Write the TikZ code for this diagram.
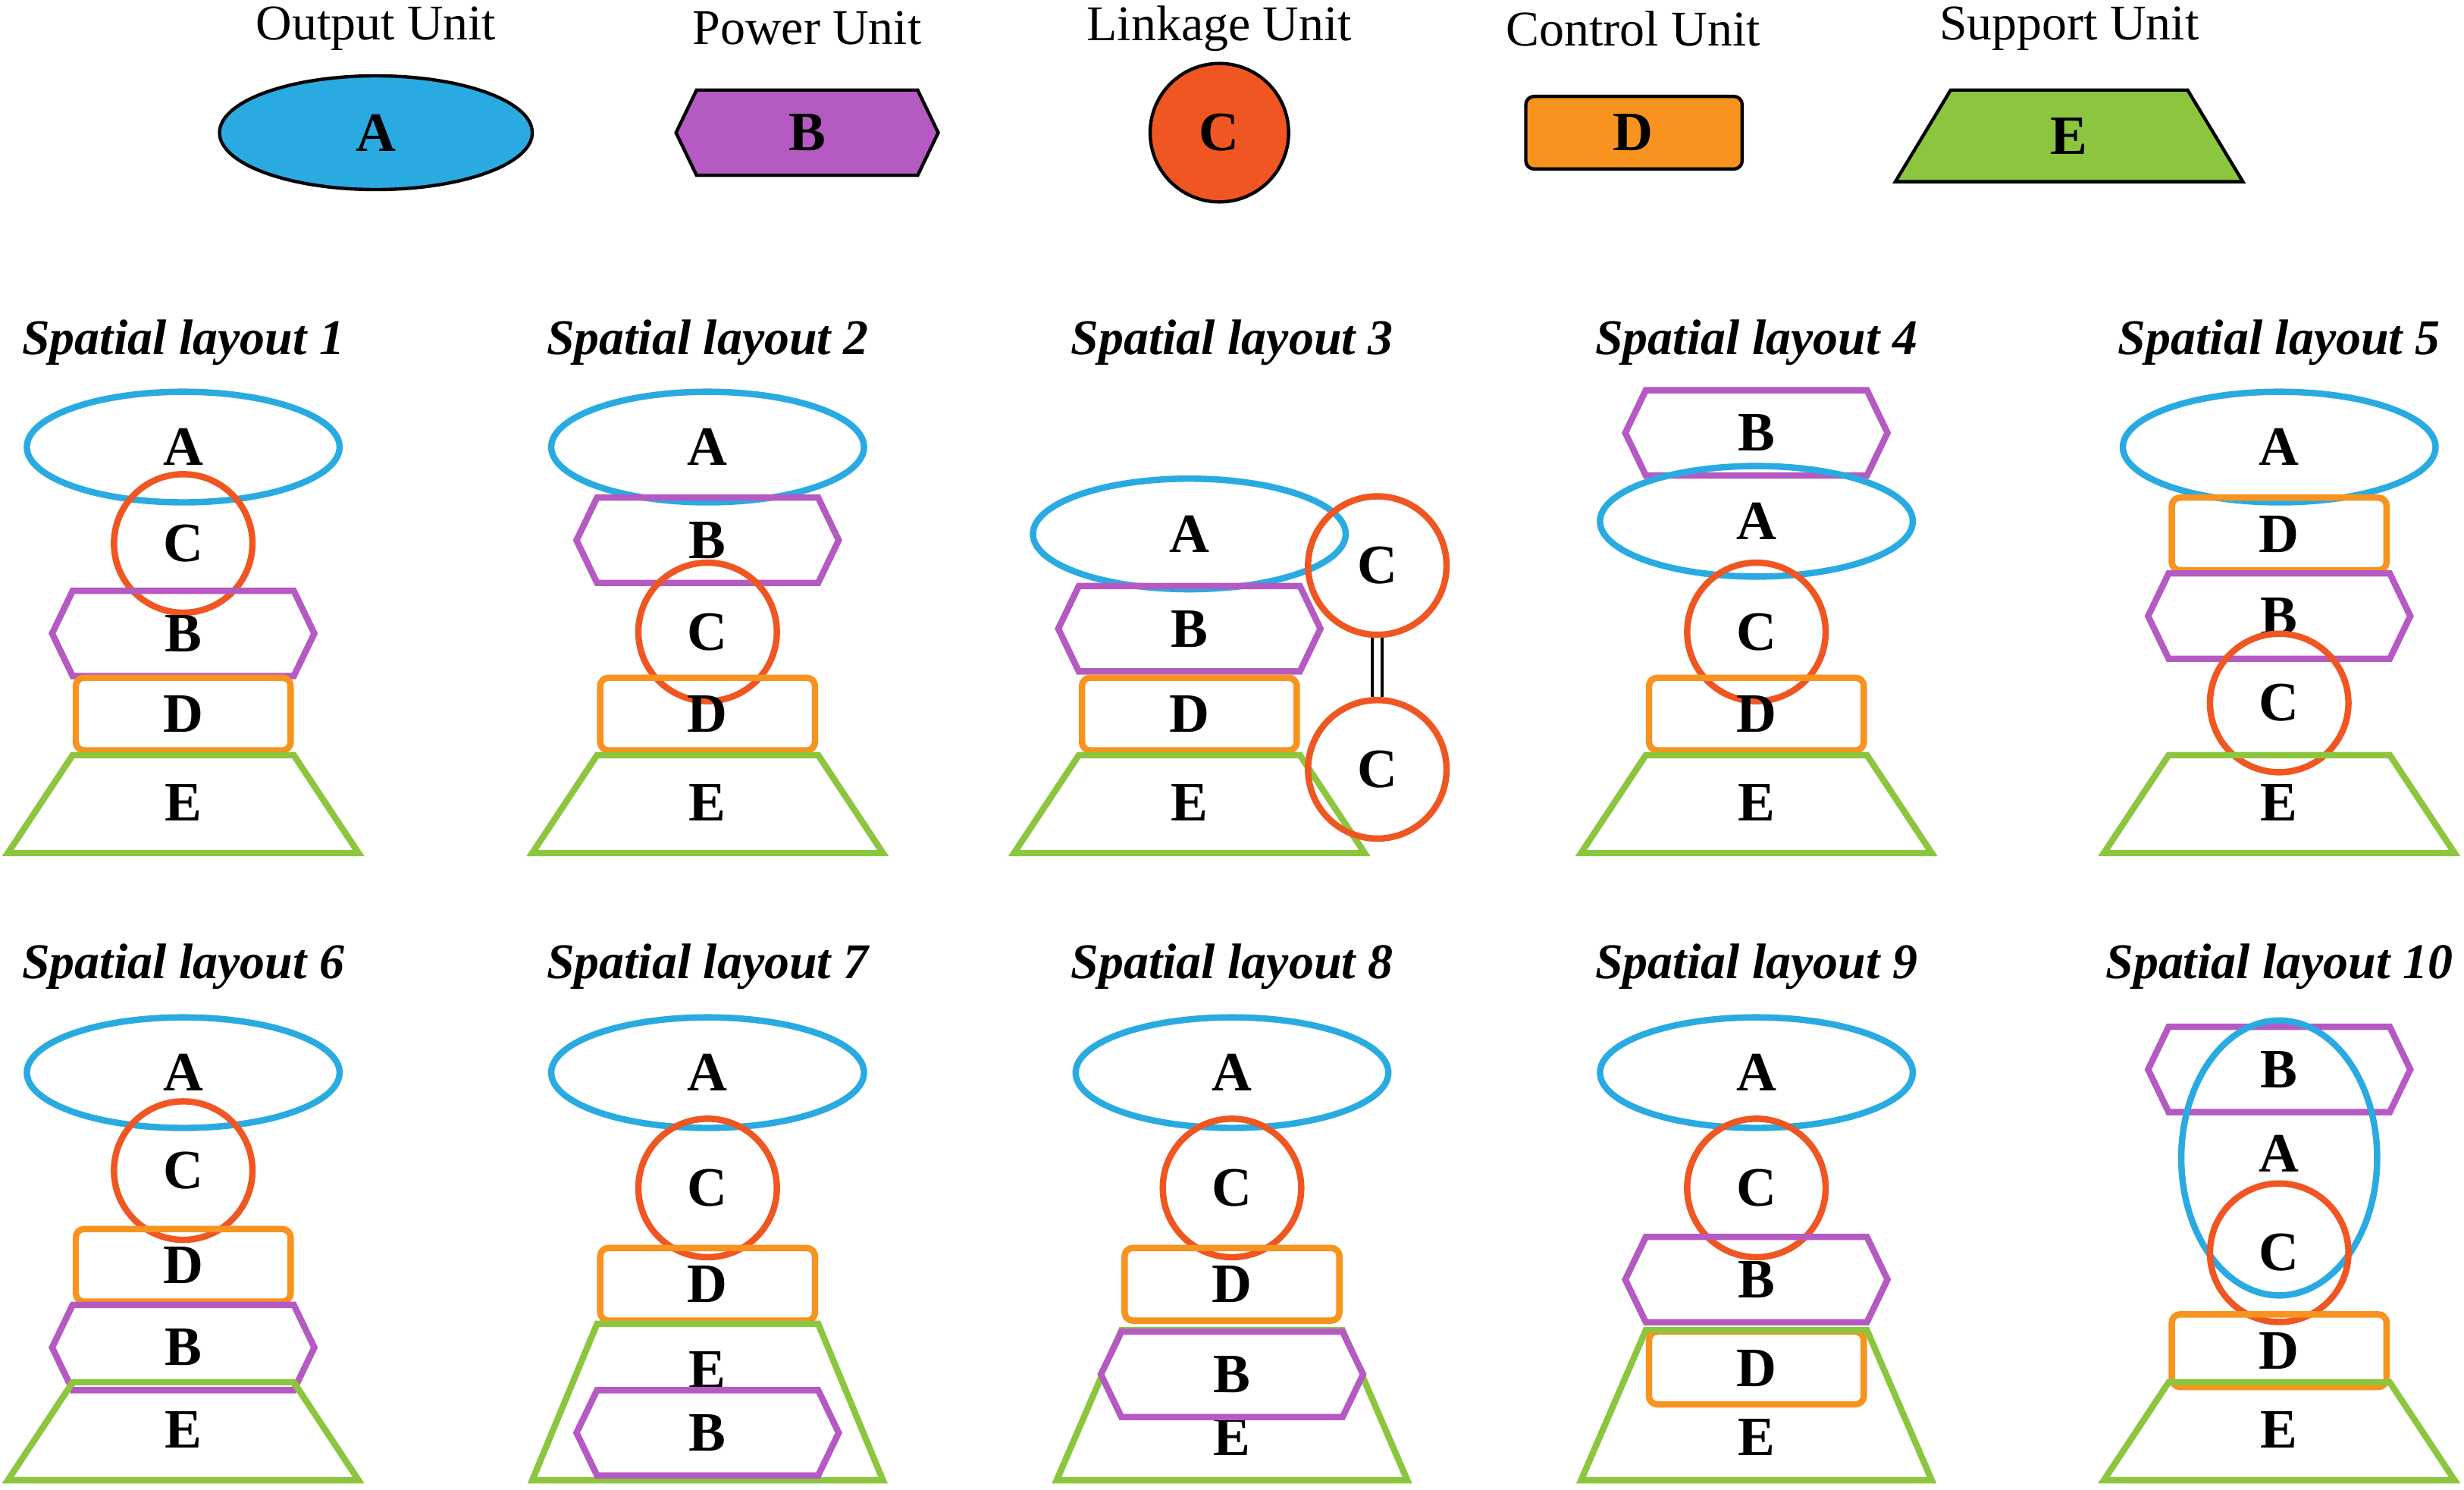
\documentclass[tikz,border=0pt]{standalone}
\usepackage{fontspec}
\setmainfont{Liberation Serif}
\definecolor{colA}{RGB}{41,171,226}
\definecolor{colB}{RGB}{181,90,194}
\definecolor{colC}{RGB}{240,86,34}
\definecolor{colD}{RGB}{247,147,30}
\definecolor{colE}{RGB}{140,198,63}
\tikzset{
  lbl/.style={font=\fontsize{20}{20}\selectfont\bfseries, inner sep=0pt},
  ttl/.style={font=\fontsize{18}{18}\selectfont\bfseries\itshape, inner sep=0pt},
  hdr/.style={font=\fontsize{18}{18}\selectfont, inner sep=0pt},
  ou/.style={line width=2.3pt},
  circC/.style={circle, draw=colC, line width=2.3pt, minimum size=49.9pt, inner sep=0pt, lbl},
}
% A: ellipse, B: hexagon, C: circle, D: box, E: trapezoid
\newcommand{\uA}[3][]{\draw[ou,colA,#1] (#2,#3) ellipse [x radius=99, y radius=35];
  \node[lbl] at (#2,#3) {A};}
\newcommand{\uB}[3][]{\draw[ou,colB,#1] (#2,#3) ++(-83,0) -- ++(13,-27) -- ++(140,0) -- ++(13,27) -- ++(-13,27) -- ++(-140,0) -- cycle;
  \node[lbl] at (#2,#3) {B};}
\newcommand{\uC}[3]{\node[circC] (#1) at (#2,#3) {C};}
\newcommand{\uD}[3][]{\draw[ou,colD,rounded corners=3pt,#1] (#2,#3) ++(-68,-23) rectangle ++(136,46);
  \node[lbl] at (#2,#3) {D};}
% #1 height of the support, #2 x, #3 base centre y, #4 label y
\newcommand{\uE}[4][62]{\draw[ou,colE] (#2,#3) ++(-111,32) -- ++(41,-#1) -- ++(140,0) -- ++(41,#1) -- cycle;
  \node[lbl] at (#2,#4) {E};}
\begin{document}
\begin{tikzpicture}[x=0.02cm,y=-0.02cm]
\useasboundingbox (0,0) rectangle (1560,943);

% legend
\node[hdr] (tA) at (238,18) {Output Unit};
\node[hdr] (tB) at (511,18) {Power Unit};
\node[hdr] (tC) at (772,18) {Linkage Unit};
\node[hdr] (tD) at (1034,18) {Control Unit};
\node[hdr] (tE) at (1310,18) {Support Unit};
\draw[fill=colA,line width=1.2pt] (238,84) ellipse [x radius=99, y radius=36];
\node[lbl] at (238,84) {A};
\draw[fill=colB,line width=1.2pt] (511,84) ++(-83,0) -- ++(13,-27) -- ++(140,0) -- ++(13,27) -- ++(-13,27) -- ++(-140,0) -- cycle;
\node[lbl] at (511,84) {B};
\node[circle,draw,fill=colC,line width=1.2pt,minimum size=49.9pt,lbl] (lc) at (772,84) {C};
\draw[fill=colD,line width=1.2pt,rounded corners=3pt] (966,61) rectangle (1103,107);
\node[lbl] at (1034,84) {D};
\draw[fill=colE,line width=1.2pt] (1200,115) -- (1235,57) -- (1385,57) -- (1420,115) -- cycle;
\node[lbl] at (1310,86) {E};

% titles
\foreach \i/\x in {1/116,2/448,3/780,4/1112,5/1443}
  \node[ttl] (s\i) at (\x,217) {Spatial layout \i};
\foreach \i/\x in {6/116,7/448,8/780,9/1112,10/1443}
  \node[ttl] (s\i) at (\x,612) {Spatial layout \i};

% layout 1
\uA{116}{283} \uC{c1}{116}{344} \uB{116}{401} \uD{116}{452} \uE{116}{508}{508}
% layout 2
\uA{448}{283} \uB{448}{342} \uC{c2}{448}{400} \uD{448}{452} \uE{448}{508}{508}
% layout 3
\uA{753}{338} \uB{753}{398} \uD{753}{452} \uE{753}{508}{508}
\uC{c3a}{872}{358} \uC{c3b}{872}{487}
\draw[double,line width=1pt,double distance=2.5pt] (c3a.south) -- (c3b.north);
% layout 4
\uB{1112}{274} \uA{1112}{330} \uC{c4}{1112}{400} \uD{1112}{452} \uE{1112}{508}{508}
% layout 5
\uA{1443}{283} \uD{1443}{338} \uB{1443}{390} \uC{c5}{1443}{445} \uE{1443}{508}{508}

% layout 6
\uA{116}{679} \uC{c6}{116}{741} \uD{116}{801} \uB{116}{853} \uE{116}{905}{905}
% layout 7
\uA{448}{679} \uC{c7}{448}{752} \uD{448}{813} \uE[99]{448}{905}{867}
\uB[fill=white]{448}{907}
% layout 8
\uA{780}{679} \uC{c8}{780}{752} \uD{780}{813} \uE[95]{780}{905}{910}
\uB[fill=white]{780}{870}
% layout 9
\uA{1112}{679} \uC{c9}{1112}{752} \uB{1112}{810} \uD{1112}{866} \uE[95]{1112}{905}{910}
% layout 10
\uB{1443}{677}
\draw[ou,colA] (1443,733) ellipse [x radius=62, y radius=87];
\node[lbl] at (1443,730) {A};
\uC{c10}{1443}{793} \uD{1443}{855} \uE{1443}{905}{905}
\end{tikzpicture}
\end{document}
